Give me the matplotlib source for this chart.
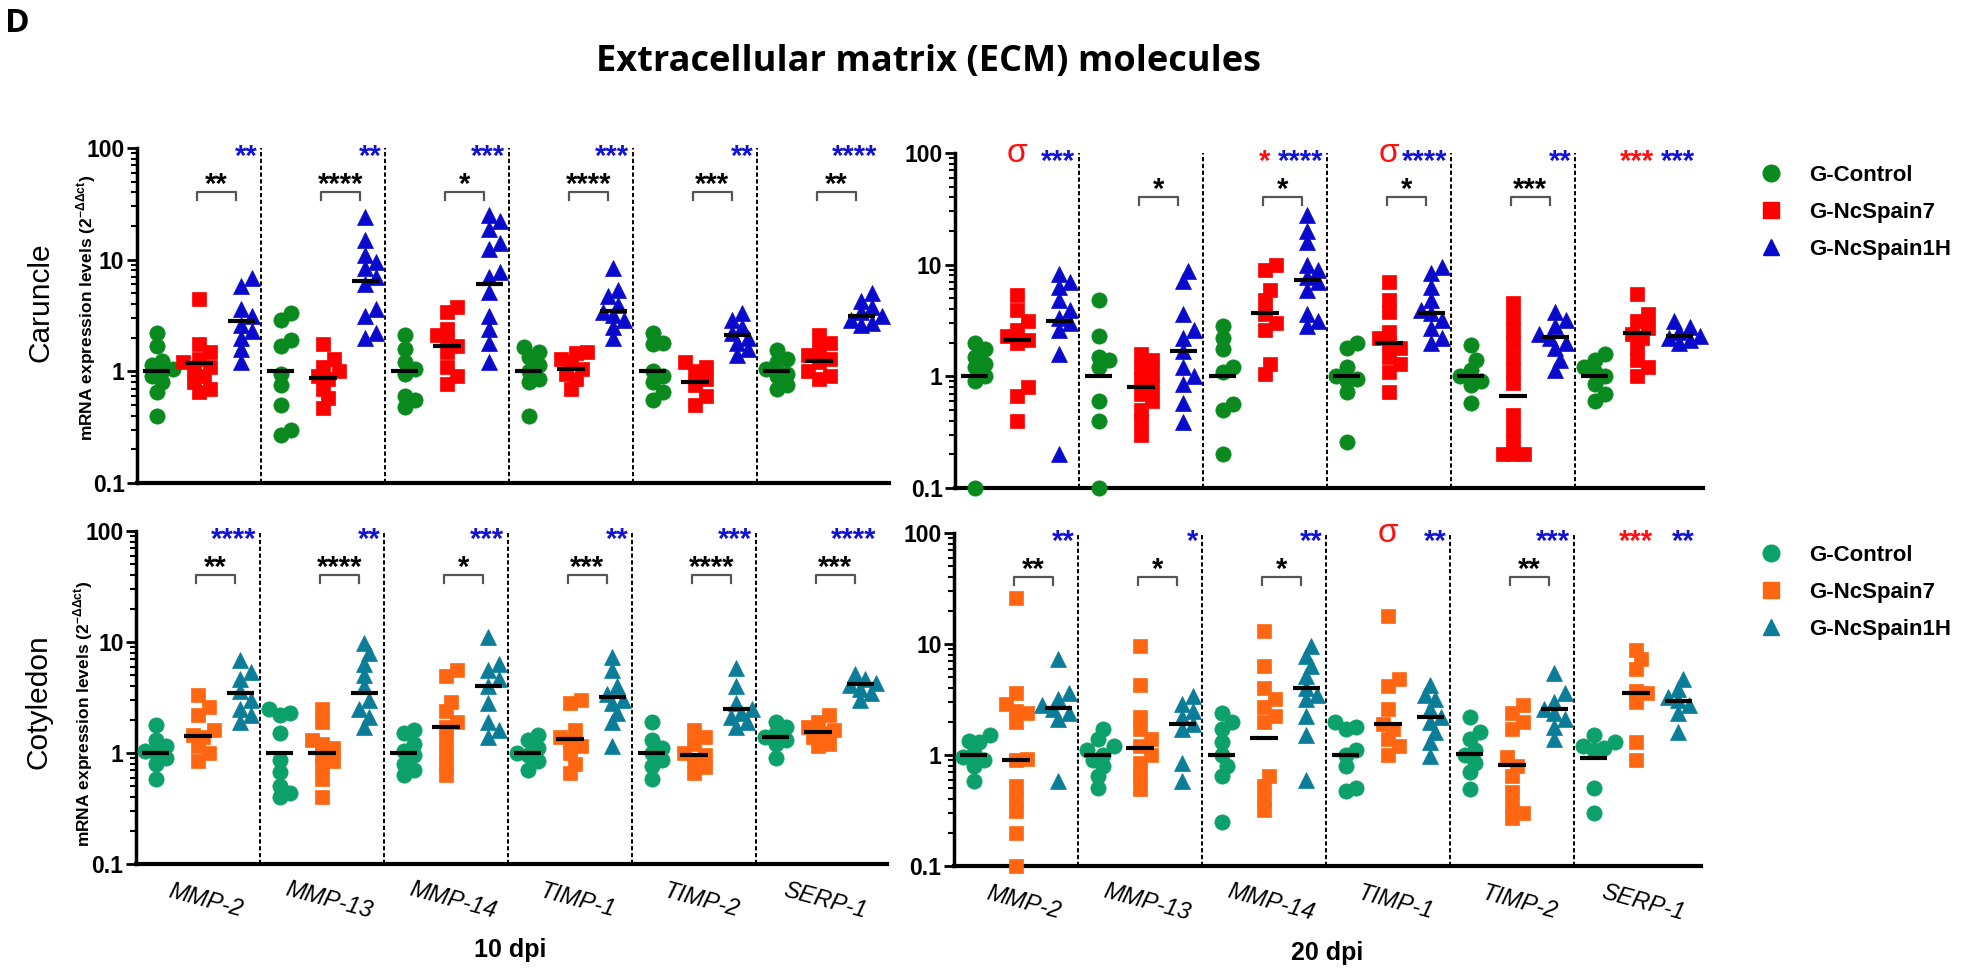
import numpy as np
import matplotlib
matplotlib.use('Agg')
import matplotlib.pyplot as plt
from matplotlib.lines import Line2D

plt.rcParams['font.family'] = ['Liberation Sans', 'DejaVu Sans']
plt.rcParams['mathtext.fontset'] = 'custom'
plt.rcParams['mathtext.rm'] = 'Liberation Sans:bold'
plt.rcParams['mathtext.bf'] = 'Liberation Sans:bold'

genes = ['MMP-2', 'MMP-13', 'MMP-14', 'TIMP-1', 'TIMP-2', 'SERP-1']
groups = ['G-Control', 'G-NcSpain7', 'G-NcSpain1H']

# ---- Caruncle, 10 dpi ----
car10_ctrl = [[2.2, 1.7, 1.25, 1.15, 1.05, 1.0, 0.9, 0.8, 0.65, 0.4],
              [3.3, 2.9, 1.9, 1.7, 0.95, 0.75, 0.5, 0.3, 0.27],
              [2.1, 1.6, 1.2, 1.05, 0.95, 0.6, 0.55, 0.48],
              [1.65, 1.5, 1.35, 1.15, 1.0, 0.85, 0.8, 0.4],
              [2.2, 1.8, 1.75, 1.0, 0.9, 0.8, 0.65, 0.55],
              [1.55, 1.3, 1.2, 1.05, 0.95, 0.9, 0.75, 0.7]]
car10_nc7 = [[4.4, 1.75, 1.5, 1.3, 1.2, 1.1, 1.0, 0.9, 0.8, 0.7, 0.65],
             [1.75, 1.3, 1.1, 1.0, 0.9, 0.85, 0.7, 0.58, 0.47],
             [3.8, 3.4, 2.4, 2.1, 1.9, 1.7, 1.5, 1.1, 0.9, 0.77],
             [1.5, 1.45, 1.3, 1.2, 1.05, 0.95, 0.85, 0.7],
             [1.2, 1.1, 1.0, 0.85, 0.75, 0.6, 0.5],
             [2.1, 1.8, 1.6, 1.4, 1.3, 1.2, 1.0, 0.9, 0.85]]
car10_nc1h = [[6.8, 5.8, 3.6, 3.1, 2.6, 2.3, 2.0, 1.6, 1.2],
              [24, 15, 11, 9.5, 8.5, 7.0, 6.0, 3.6, 3.1, 2.2, 2.0],
              [25, 22, 19, 14, 12.5, 7.7, 7.0, 5.1, 3.1, 2.4, 1.8, 1.2],
              [8.5, 5.4, 4.7, 3.9, 3.4, 3.2, 2.9, 2.5, 2.0],
              [3.3, 2.9, 2.5, 2.2, 2.0, 1.8, 1.6, 1.4],
              [5.0, 4.3, 3.8, 3.4, 3.1, 2.9, 2.7, 2.6]]
car10_mid = [[1, 1, 1, 1, 1, 1],
             [1.18, 0.87, 1.7, 1.05, 0.8, 1.25],
             [2.8, 6.5, 6.0, 3.5, 2.1, 3.1]]
car10_pair = ['**', '****', '*', '****', '***', '**']
car10_blue = ['**', '**', '***', '***', '**', '****']
car10_red = ['', '', '', '', '', '']

# ---- Caruncle, 20 dpi ----
car20_ctrl = [[2.0, 1.75, 1.5, 1.3, 1.2, 1.0, 0.9, 0.1],
              [4.8, 2.3, 1.5, 1.4, 1.2, 0.6, 0.4, 0.1],
              [2.8, 2.2, 1.75, 1.2, 1.1, 0.56, 0.5, 0.2],
              [2.0, 1.8, 1.2, 1.0, 0.95, 0.9, 0.72, 0.26],
              [1.9, 1.4, 1.15, 1.0, 0.9, 0.83, 0.58],
              [1.6, 1.4, 1.2, 1.1, 1.0, 0.85, 0.7, 0.6]]
car20_nc7 = [[5.3, 3.9, 3.1, 2.6, 2.3, 2.1, 2.0, 0.8, 0.67, 0.4],
             [1.6, 1.4, 1.2, 1.05, 0.95, 0.8, 0.7, 0.6, 0.5, 0.4, 0.3],
             [10, 9, 5.9, 4.8, 3.6, 3.0, 2.6, 1.3, 1.05],
             [7.0, 4.8, 3.8, 2.5, 2.2, 2.0, 1.8, 1.5, 1.3, 1.1, 0.72],
             [4.5, 3.4, 2.6, 2.0, 1.5, 1.15, 0.87, 0.45, 0.34, 0.26, 0.2, 0.2, 0.2],
             [5.5, 3.6, 3.1, 2.7, 2.4, 2.2, 1.8, 1.4, 1.2, 1.0]]
car20_nc1h = [[8.3, 7.0, 6.3, 4.8, 3.9, 3.3, 3.0, 2.6, 1.6, 0.2],
              [8.8, 7.2, 3.6, 2.6, 2.2, 1.7, 1.2, 1.0, 0.85, 0.58, 0.39],
              [28, 20, 16, 10, 9, 7.7, 7.0, 5.9, 3.6, 3.1, 2.8],
              [9.5, 8.5, 6.3, 4.8, 3.9, 3.7, 3.2, 2.7, 2.2, 2.0],
              [3.8, 3.2, 2.8, 2.4, 2.2, 2.0, 1.8, 1.4, 1.15],
              [3.1, 2.75, 2.5, 2.3, 2.2, 2.1, 2.0]]
car20_mid = [[1, 1, 1, 1, 1, 1],
             [2.1, 0.8, 3.7, 2.0, 0.66, 2.45],
             [3.1, 1.7, 7.3, 3.7, 2.25, 2.3]]
car20_pair = ['', '*', '*', '*', '***', '']
car20_blue = ['***', '', '****', '****', '**', '***']
car20_red = ['σ', '', '*', 'σ', '', '***']

# ---- Cotyledon, 10 dpi ----
cot10_ctrl = [[1.8, 1.3, 1.15, 1.05, 1.0, 0.9, 0.8, 0.58],
              [2.5, 2.3, 2.2, 1.5, 0.87, 0.68, 0.5, 0.44, 0.4],
              [1.6, 1.5, 1.2, 1.05, 0.95, 0.8, 0.7, 0.64],
              [1.45, 1.3, 1.1, 1.0, 0.95, 0.84, 0.71],
              [1.9, 1.3, 1.1, 1.0, 0.87, 0.76, 0.58],
              [1.9, 1.7, 1.5, 1.4, 1.3, 1.2, 0.9]]
cot10_nc7 = [[3.3, 2.6, 2.2, 1.6, 1.45, 1.4, 1.15, 1.0, 0.84],
             [2.5, 1.9, 1.3, 1.2, 1.1, 0.95, 0.85, 0.76, 0.58, 0.4],
             [5.6, 4.9, 2.9, 2.4, 1.9, 1.7, 1.3, 1.0, 0.8, 0.64],
             [3.0, 2.8, 1.6, 1.4, 1.3, 1.15, 1.0, 0.8, 0.66],
             [1.6, 1.4, 1.2, 1.0, 0.95, 0.85, 0.75, 0.66],
             [2.2, 1.9, 1.7, 1.6, 1.5, 1.4, 1.2, 1.15]]
cot10_nc1h = [[6.9, 5.4, 4.6, 3.6, 3.0, 2.5, 2.2, 1.9],
              [9.7, 7.9, 6.4, 5.0, 4.0, 3.0, 2.5, 2.1, 1.7],
              [11, 6.4, 5.6, 4.6, 4.0, 2.8, 1.9, 1.6, 1.4],
              [7.4, 5.6, 4.0, 3.4, 3.0, 2.8, 2.3, 1.9, 1.15],
              [5.8, 4.0, 2.8, 2.5, 2.3, 2.1, 1.9, 1.7],
              [5.2, 4.6, 4.3, 4.1, 3.8, 3.5, 3.0]]
cot10_mid = [[1, 1, 1, 1, 1, 1.38],
             [1.43, 0.99, 1.73, 1.34, 0.95, 1.55],
             [3.5, 3.5, 4.05, 3.2, 2.5, 4.2]]
cot10_pair = ['**', '****', '*', '***', '****', '***']
cot10_blue = ['****', '**', '***', '**', '***', '****']
cot10_red = ['', '', '', '', '', '']

# ---- Cotyledon, 20 dpi ----
cot20_ctrl = [[1.5, 1.35, 1.3, 1.05, 0.95, 0.9, 0.8, 0.58],
              [1.7, 1.4, 1.2, 1.1, 1.0, 0.9, 0.8, 0.65, 0.5],
              [2.4, 2.0, 1.7, 1.3, 1.0, 0.8, 0.65, 0.25],
              [2.0, 1.8, 1.7, 1.1, 1.0, 0.8, 0.5, 0.47],
              [2.2, 1.6, 1.4, 1.1, 1.0, 0.85, 0.7, 0.49],
              [1.5, 1.3, 1.2, 1.15, 1.1, 0.5, 0.3]]
cot20_nc7 = [[26, 3.6, 2.9, 2.5, 2.4, 2.0, 0.92, 0.9, 0.53, 0.4, 0.31, 0.2, 0.1],
             [9.6, 4.3, 2.2, 1.7, 1.4, 1.2, 1.0, 0.85, 0.65, 0.49],
             [13, 6.3, 4.0, 3.2, 2.7, 2.25, 2.0, 0.65, 0.53, 0.4, 0.32],
             [18, 4.8, 4.2, 2.6, 1.9, 1.7, 1.4, 1.2, 1.0],
             [2.8, 2.4, 2.0, 1.7, 0.95, 0.8, 0.65, 0.46, 0.35, 0.3, 0.27],
             [8.9, 7.3, 5.9, 3.8, 3.6, 3.0, 1.3, 0.91]]
cot20_nc1h = [[7.3, 3.6, 3.2, 2.8, 2.6, 2.4, 2.1, 0.58],
              [3.4, 2.9, 2.5, 2.2, 1.9, 1.7, 0.85, 0.58],
              [9.6, 7.8, 6.3, 5.1, 4.0, 3.5, 3.2, 2.25, 1.5, 0.6],
              [4.3, 3.5, 3.2, 2.6, 2.2, 2.0, 1.6, 1.3, 0.98],
              [5.5, 3.6, 3.0, 2.6, 2.4, 2.1, 1.8, 1.4],
              [4.8, 3.9, 3.3, 3.1, 2.8, 2.4, 1.6]]
cot20_mid = [[1.0, 1.0, 1.0, 1.0, 1.03, 0.93],
             [0.91, 1.16, 1.43, 1.9, 0.81, 3.6],
             [2.67, 1.9, 4.0, 2.2, 2.6, 3.06]]
cot20_pair = ['**', '*', '*', '', '**', '']
cot20_blue = ['**', '*', '**', '**', '***', '**']
cot20_red = ['', '', '', 'σ', '', '***']

top_colors = ['#0a8a1e', '#ff0000', '#0a0acc']
bot_colors = ['#0ca06a', '#ff6612', '#0c7d98']
markers = ['o', 's', '^']
msizes = [11, 10, 11]
star_blue = '#1212d2'
star_red = '#ff1010'

W, H = 1961, 977
UNIT = 124.0       # pixels per gene slot
OFFS = [-0.34, 0.0, 0.34]


def swarm(vals, ppd, d=10.5):
    # simple beeswarm: spread points that would overlap
    ys = np.log10(vals) * ppd
    order = np.argsort(ys)
    cands = [0.0]
    for k in range(1, 14):
        cands += [k * d * 0.5, -k * d * 0.5]
    placed = []
    offs = np.zeros(len(vals))
    for i in order:
        for c in cands:
            if all((c - px) ** 2 + (ys[i] - py) ** 2 >= d * d for px, py in placed):
                break
        placed.append((c, ys[i]))
        offs[i] = c / UNIT
    return offs


def star(ax, x, y, s, color, fs=21, ha='center', kind='*'):
    dy = -0.58 * fs if kind == '*' else -0.27 * fs
    ax.annotate(s, xy=(x, y), xytext=(0, dy), textcoords='offset points',
                ha=ha, va='baseline', color=color, fontsize=fs,
                fontweight='bold' if kind == '*' else 'normal',
                annotation_clip=False, zorder=6)


def draw_panel(box, xlo, data, mids, pair, blue_st, red_st, colors, show_x):
    l, t, r, b = box
    ax = fig.add_axes([l / W, 1 - b / H, (r - l) / W, (b - t) / H])
    ppd = (b - t) / 3.0
    ax.set_yscale('log')
    ax.set_ylim(0.1, 100)
    xhi = xlo + (r - l) / UNIT
    ax.set_xlim(xlo, xhi)

    for g in range(3):
        for j in range(6):
            vals = np.array(data[g][j], dtype=float)
            xc = j + OFFS[g]
            ax.plot(xc + swarm(vals, ppd), vals, ls='none', marker=markers[g],
                    ms=msizes[g], color=colors[g], mec=colors[g], mew=0.5,
                    zorder=3, clip_on=False)
            ax.plot([xc - 0.11, xc + 0.11], [mids[g][j]] * 2, color='k',
                    lw=3, zorder=4, solid_capstyle='butt')

    ax.vlines(np.arange(5) + 0.5, 0.1, 100, colors='k', lw=1.4,
              linestyles=(0, (2.2, 1.3)), zorder=1)

    for j in range(6):
        if pair[j]:
            x0, x1 = j + OFFS[1] - 0.02, j + OFFS[2] - 0.04
            ax.plot([x0, x0, x1, x1], [34, 40, 40, 34], color='#555555', lw=1.6,
                    zorder=5, clip_on=False)
            star(ax, (x0 + x1) / 2, 56, pair[j], 'k')
        if blue_st[j]:
            xr = min(j + 0.5, xhi) - 0.03
            star(ax, xr, 100, blue_st[j], star_blue, ha='right')
        if red_st[j]:
            kind = 's' if red_st[j] == 'σ' else '*'
            fs = 24 if kind == 's' else 21
            star(ax, j + OFFS[1], 100, red_st[j], star_red, fs=fs, kind=kind)

    for side in ['top', 'right']:
        ax.spines[side].set_visible(False)
    ax.spines['left'].set_linewidth(2.5)
    ax.spines['bottom'].set_linewidth(3)
    ax.set_yticks([0.1, 1, 10, 100])
    ax.set_yticklabels(['0.1', '1', '10', '100'], fontsize=16.5, fontweight='bold')
    ax.tick_params(axis='y', which='major', length=7, width=2, pad=2)
    ax.tick_params(axis='y', which='minor', length=4, width=1.5)
    ax.set_xticks([])
    if show_x:
        for j, gname in enumerate(genes):
            ax.text(j + 0.06, -0.11, gname, transform=ax.get_xaxis_transform(),
                    rotation=-15, ha='center', va='center', fontsize=17,
                    style='italic')
    ax.patch.set_alpha(0)
    return ax


fig = plt.figure(figsize=(W / 100, H / 100), dpi=100)

ax_tl = draw_panel((137, 148, 889, 483), -0.5, [car10_ctrl, car10_nc7, car10_nc1h],
                   car10_mid, car10_pair, car10_blue, car10_red, top_colors, False)
ax_tr = draw_panel((955, 153, 1703, 488), -0.5, [car20_ctrl, car20_nc7, car20_nc1h],
                   car20_mid, car20_pair, car20_blue, car20_red, top_colors, False)
ax_bl = draw_panel((136, 531, 887, 864), -0.5, [cot10_ctrl, cot10_nc7, cot10_nc1h],
                   cot10_mid, cot10_pair, cot10_blue, cot10_red, bot_colors, True)
ax_br = draw_panel((954, 533, 1701, 866), -0.5, [cot20_ctrl, cot20_nc7, cot20_nc1h],
                   cot20_mid, cot20_pair, cot20_blue, cot20_red, bot_colors, True)

# legends
for ax, cols, top in [(ax_tr, top_colors, 165), (ax_br, bot_colors, 545)]:
    handles = [Line2D([], [], ls='none', marker=markers[g], ms=msizes[g] + 1,
                      color=cols[g]) for g in range(3)]
    ax.legend(handles, groups, loc='upper left', bbox_to_anchor=(1760 / W, 1 - top / H),
              bbox_transform=fig.transFigure, frameon=False, borderpad=0,
              borderaxespad=0, handlelength=1.0, handletextpad=1.2,
              labelspacing=0.72, prop={'weight': 'bold', 'size': 16})

# row / axis labels
ylab = 'mRNA expression levels (2$^{\\mathregular{-\\Delta\\Delta ct}}$)'
fig.text(41 / W, 1 - 302 / H, 'Caruncle', rotation=90, ha='center', va='center', fontsize=21.5)
fig.text(86 / W, 1 - 308 / H, ylab, rotation=90, ha='center', va='center',
         fontsize=12.5, fontweight='bold')
fig.text(38 / W, 1 - 702 / H, 'Cotyledon', rotation=90, ha='center', va='center', fontsize=21.5)
fig.text(83 / W, 1 - 714 / H, ylab, rotation=90, ha='center', va='center',
         fontsize=12.5, fontweight='bold')

fig.text(510 / W, 1 - 950 / H, '10 dpi', ha='center', va='center', fontsize=18, fontweight='bold')
fig.text(1327 / W, 1 - 953 / H, '20 dpi', ha='center', va='center', fontsize=18, fontweight='bold')

fig.text(928 / W, 1 - 62 / H, 'Extracellular matrix (ECM) molecules', ha='center',
         va='center', fontsize=26, fontweight='bold', family='Open Sans')
fig.text(5 / W, 1 - 24 / H, 'D', ha='left', va='center', fontsize=24,
         fontweight='bold', family='Open Sans')

fig.savefig('out.png', dpi=100)
